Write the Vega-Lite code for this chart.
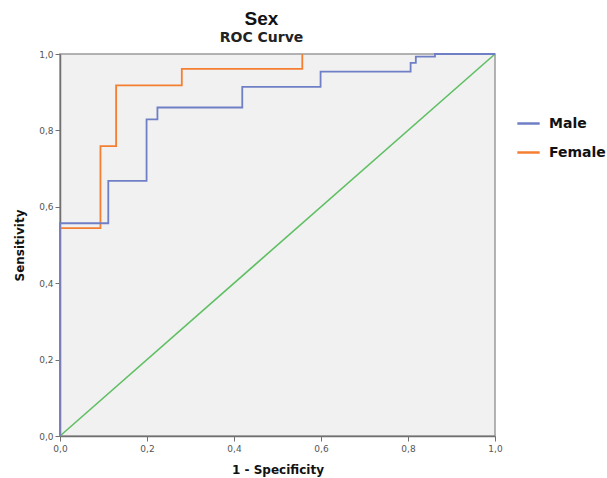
{
  "$schema": "https://vega.github.io/schema/vega-lite/v6.json",
  "width": 435,
  "height": 382,
  "autosize": {"type": "none"},
  "padding": {"left": 60, "top": 54, "right": 112, "bottom": 42},
  "background": "white",
  "title": {
    "text": "Sex",
    "subtitle": "ROC Curve",
    "font": "Liberation Sans",
    "fontSize": 19,
    "fontWeight": "bold",
    "color": "#111111",
    "subtitleFont": "DejaVu Sans",
    "subtitleFontSize": 14,
    "subtitleFontWeight": "bold",
    "subtitleColor": "#222222",
    "subtitlePadding": 2,
    "anchor": "middle",
    "frame": "group",
    "dx": -16,
    "offset": 5
  },
  "config": {
    "view": {"fill": "#f1f1f1", "stroke": "#9a9a9a", "strokeWidth": 1.5},
    "axis": {
      "grid": false,
      "domainColor": "#707070",
      "domainWidth": 1.5,
      "tickColor": "#707070",
      "tickSize": 5,
      "labelFlush": false,
      "labelFont": "DejaVu Sans",
      "labelFontSize": 9,
      "labelColor": "#555555",
      "titleFont": "DejaVu Sans",
      "titleFontSize": 12,
      "titleFontWeight": "bold",
      "titleColor": "#111111"
    }
  },
  "datasets": {
    "diag": [{"x": 0, "y": 0}, {"x": 1, "y": 1}],
    "roc": [
      {"series": "Female", "i": 0, "x": 0, "y": 0},
      {"series": "Female", "i": 1, "x": 0, "y": 0.544},
      {"series": "Female", "i": 2, "x": 0.093, "y": 0.759},
      {"series": "Female", "i": 3, "x": 0.129, "y": 0.918},
      {"series": "Female", "i": 4, "x": 0.280, "y": 0.961},
      {"series": "Female", "i": 5, "x": 0.557, "y": 1.0},
      {"series": "Male", "i": 0, "x": 0, "y": 0},
      {"series": "Male", "i": 1, "x": 0, "y": 0.557},
      {"series": "Male", "i": 2, "x": 0.111, "y": 0.668},
      {"series": "Male", "i": 3, "x": 0.199, "y": 0.829},
      {"series": "Male", "i": 4, "x": 0.224, "y": 0.860},
      {"series": "Male", "i": 5, "x": 0.419, "y": 0.914},
      {"series": "Male", "i": 6, "x": 0.599, "y": 0.954},
      {"series": "Male", "i": 7, "x": 0.806, "y": 0.977},
      {"series": "Male", "i": 8, "x": 0.818, "y": 0.993},
      {"series": "Male", "i": 9, "x": 0.862, "y": 1.0},
      {"series": "Male", "i": 10, "x": 1.0, "y": 1.0}
    ]
  },
  "layer": [
    {
      "data": {"name": "diag"},
      "mark": {"type": "line", "color": "#5fbf63", "strokeWidth": 1.6},
      "encoding": {
        "x": {"field": "x", "type": "quantitative", "scale": {"domain": [0, 1]},
          "axis": {"values": [0, 0.2, 0.4, 0.6, 0.8, 1], "format": ".1f", "labelExpr": "replace(datum.label, '.', ',')", "title": "1 - Specificity", "labelPadding": 3, "titlePadding": 11}},
        "y": {"field": "y", "type": "quantitative", "scale": {"domain": [0, 1]},
          "axis": {"values": [0, 0.2, 0.4, 0.6, 0.8, 1], "format": ".1f", "labelExpr": "replace(datum.label, '.', ',')", "title": "Sensitivity", "labelPadding": 2, "titlePadding": 12}}
      }
    },
    {
      "data": {"name": "roc"},
      "mark": {"type": "line", "interpolate": "step-after", "strokeWidth": 1.8},
      "encoding": {
        "x": {"field": "x", "type": "quantitative"},
        "y": {"field": "y", "type": "quantitative"},
        "order": {"field": "i", "type": "quantitative"},
        "color": {
          "field": "series", "type": "nominal",
          "scale": {"domain": ["Male", "Female"], "range": ["#6f7fc6", "#f47f30"]},
          "legend": {
            "title": null,
            "orient": "none",
            "legendX": 456,
            "legendY": 57,
            "symbolType": "stroke",
            "symbolSize": 500,
            "symbolStrokeWidth": 2.5,
            "labelFont": "DejaVu Sans",
            "labelFontSize": 14,
            "labelFontWeight": "bold",
            "labelColor": "#111111",
            "labelOffset": 8,
            "rowPadding": 9
          }
        }
      }
    }
  ]
}
